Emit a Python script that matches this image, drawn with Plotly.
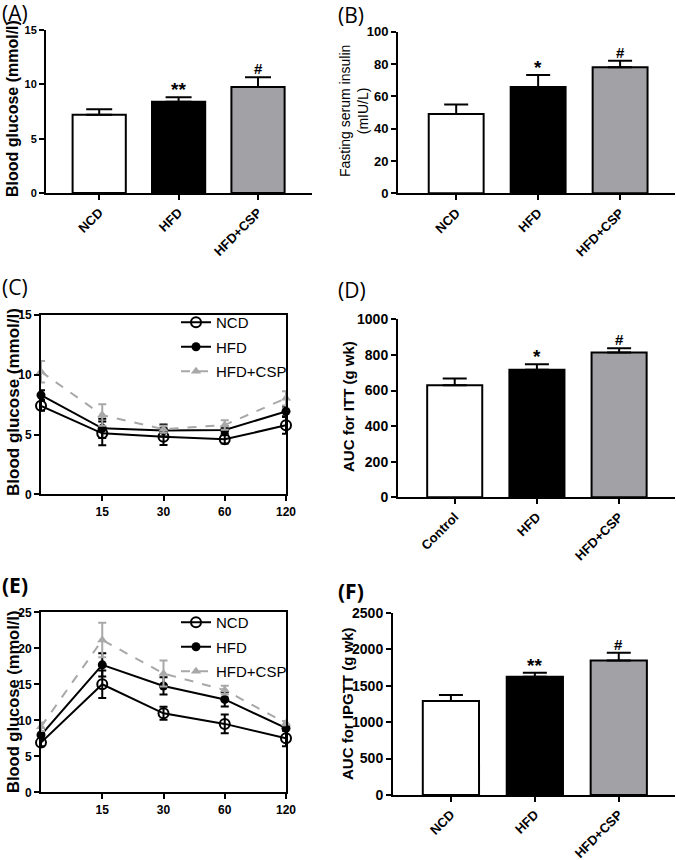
import plotly.graph_objects as go

W, H = 676, 860

# ---------------- data ----------------
groups_a = ["NCD", "HFD", "HFD+CSP"]
glucose_mean = [7.2, 8.4, 9.75]
glucose_err = [0.5, 0.4, 0.9]
glucose_sig = ["", "**", "#"]

insulin_mean = [49.0, 65.8, 78.0]
insulin_err = [6.0, 7.4, 4.0]
insulin_sig = ["", "*", "#"]

groups_d = ["Control", "HFD", "HFD+CSP"]
auc_itt_mean = [629, 717, 813]
auc_itt_err = [38, 30, 24]
auc_itt_sig = ["", "*", "#"]

auc_ipgtt_mean = [1289, 1622, 1846]
auc_ipgtt_err = [82, 55, 105]
auc_ipgtt_sig = ["", "**", "#"]

time_labels = ["0", "15", "30", "60", "120"]

itt_ncd = [7.4, 5.1, 4.82, 4.6, 5.77]
itt_ncd_err = [0.4, 1.0, 0.7, 0.35, 0.7]
itt_hfd = [8.3, 5.52, 5.33, 5.38, 6.94]
itt_hfd_err = [0.4, 0.8, 0.5, 0.3, 0.4]
itt_csp = [10.26, 6.63, 5.44, 5.8, 8.03]
itt_csp_err = [0.9, 0.9, 0.3, 0.4, 0.6]

gtt_ncd = [6.9, 15.0, 10.97, 9.5, 7.5]
gtt_ncd_err = [0.5, 1.9, 0.9, 1.3, 1.1]
gtt_hfd = [7.96, 17.7, 14.77, 12.9, 8.9]
gtt_hfd_err = [0.5, 1.6, 1.2, 1.0, 0.3]
gtt_csp = [9.1, 21.16, 16.5, 14.2, 9.6]
gtt_csp_err = [0.6, 2.4, 1.8, 0.6, 0.3]

bar_colors = ["#ffffff", "#000000", "#a2a2a6"]
GRAY = "#a8a8a8"

FONT = "Liberation Sans"


def px_x(a, b):
    return [a / W, b / W]


def px_y(top, bottom):
    return [1 - bottom / H, 1 - top / H]


fig = go.Figure()
annotations = []
layout = {}


def y_title(text, xp, yp, size, bold):
    annotations.append(dict(
        x=xp / W, y=1 - yp / H, xref="paper", yref="paper", text=text,
        showarrow=False, xanchor="center", yanchor="middle", textangle=-90,
        font=dict(family=FONT, size=size, color="black",
                  weight="bold" if bold else "normal"),
    ))


bar_panels = [
    # (axis suffix, groups, mean, err, sig, xdom, ydom, xrange, yrange, dtick,
    #  title, title_bold, title_size, title_x, title_y, ytick_size, capw)
    ("", groups_a, glucose_mean, glucose_err, glucose_sig, px_x(46, 312), px_y(30, 193),
     [-0.67, 2.68], [0, 15], 5, "Blood glucose (mmol/l)", True, 16, 13, 109, 11, 13),
    ("2", groups_a, insulin_mean, insulin_err, insulin_sig, px_x(398, 675), px_y(31.7, 193.3),
     [-0.71, 2.67], [0, 100], 20, "Fasting serum insulin<br>(mIU/L)", False, 14, 354, 111, 13, 12),
    ("4", groups_d, auc_itt_mean, auc_itt_err, auc_itt_sig, px_x(398, 675), px_y(319.3, 497.3),
     [-0.69, 2.68], [0, 1000], 200, "AUC for ITT (g wk)", True, 15, 348, 407, 14, 12),
    ("6", groups_a, auc_ipgtt_mean, auc_ipgtt_err, auc_ipgtt_sig, px_x(393, 675), px_y(612.7, 795),
     [-0.69, 2.67], [0, 2500], 500, "AUC for IPGTT (g wk)", True, 15, 347, 704, 14, 12),
]

for sfx, cats, mean, err, sig, xd, yd, xr, yr, dt, title, tb, ts, tx, ty, yts, capw in bar_panels:
    xa = "x" + sfx
    ya = "y" + sfx
    fig.add_trace(go.Bar(
        x=cats, y=mean, width=0.67,
        marker=dict(color=bar_colors, line=dict(color="black", width=2)),
        error_y=dict(type="data", symmetric=False, array=err, arrayminus=[0] * len(err),
                     color="black", thickness=2, width=capw),
        xaxis=xa, yaxis=ya, showlegend=False, hoverinfo="skip",
    ))
    for c, m, e, s in zip(cats, mean, err, sig):
        if s:
            annotations.append(dict(
                x=c, y=m + e, xref=xa, yref=ya, text=s, showarrow=False,
                yanchor="bottom", yshift=-5 if "*" in s else -2,
                font=dict(family=FONT, size=19 if "*" in s else 15, color="black", weight="bold"),
            ))
    y_title(title, tx, ty, ts, tb)
    layout["xaxis" + sfx] = dict(
        domain=xd, anchor=ya, type="category", range=xr, automargin=False,
        showline=True, linecolor="black", linewidth=2,
        ticks="outside", ticklen=5, tickwidth=2, tickcolor="black",
        tickangle=-45, tickfont=dict(family=FONT, size=13, color="black", weight="bold"),
        showgrid=False, zeroline=False, fixedrange=True,
    )
    layout["yaxis" + sfx] = dict(
        domain=yd, anchor=xa, range=yr, dtick=dt, automargin=False,
        showline=True, linecolor="black", linewidth=2,
        ticks="outside", ticklen=5, tickwidth=2, tickcolor="black",
        tickfont=dict(family=FONT, size=yts, color="black", weight="bold"),
        showgrid=False, zeroline=False, fixedrange=True,
    )

line_panels = [
    ("3", [itt_ncd, itt_hfd, itt_csp], [itt_ncd_err, itt_hfd_err, itt_csp_err],
     px_x(41, 286), px_y(315, 494.3), [0, 15], "legend", 17, 13, 402),
    ("5", [gtt_ncd, gtt_hfd, gtt_csp], [gtt_ncd_err, gtt_hfd_err, gtt_csp_err],
     px_x(41, 286), px_y(612.3, 792.3), [0, 25], "legend2", 16.5, 13, 702),
]

series_names = ["NCD", "HFD", "HFD+CSP"]
series_style = [
    dict(line=dict(color="black", width=2),
         marker=dict(symbol="circle-open", size=10, color="black", line=dict(width=2))),
    dict(line=dict(color="black", width=2),
         marker=dict(symbol="circle", size=9, color="black")),
    dict(line=dict(color=GRAY, width=2, dash="dash"),
         marker=dict(symbol="triangle-up", size=9, color=GRAY)),
]
err_colors = ["black", "black", GRAY]

for sfx, vals, errs, xd, yd, yr, lg, ts, tx, ty in line_panels:
    xa = "x" + sfx
    ya = "y" + sfx
    for i, (name, v, e) in enumerate(zip(series_names, vals, errs)):
        fig.add_trace(go.Scatter(
            x=time_labels, y=v, name=name, mode="lines+markers",
            error_y=dict(type="data", array=e, color=err_colors[i], thickness=2, width=4),
            cliponaxis=False, legend=lg, legendgroup=name + sfx,
            xaxis=xa, yaxis=ya, hoverinfo="skip",
            **series_style[i],
        ))
    y_title("Blood glucose (mmol/l)", tx, ty, ts, True)
    layout["xaxis" + sfx] = dict(
        domain=xd, anchor=ya, type="category", range=[0, 4], automargin=False,
        tickvals=time_labels[1:], ticktext=time_labels[1:],
        showline=True, mirror=True, linecolor="black", linewidth=2,
        ticks="outside", ticklen=5, tickwidth=2, tickcolor="black",
        tickfont=dict(family=FONT, size=12, color="black", weight="bold"),
        showgrid=False, zeroline=False, fixedrange=True,
    )
    layout["yaxis" + sfx] = dict(
        domain=yd, anchor=xa, range=yr, dtick=5, automargin=False,
        showline=True, mirror=True, linecolor="black", linewidth=2,
        ticks="outside", ticklen=5, tickwidth=2, tickcolor="black",
        tickfont=dict(family=FONT, size=12, color="black", weight="bold"),
        showgrid=False, zeroline=False, fixedrange=True,
    )

legend_common = dict(
    xanchor="left", yanchor="top", bgcolor="rgba(0,0,0,0)",
    font=dict(family=FONT, size=15, color="black"),
    traceorder="grouped", tracegroupgap=2, itemwidth=30,
)

panel_labels = [
    ("(A)", 0, 13, False), ("(B)", 336, 15, False),
    ("(C)", 0, 287, False), ("(D)", 336, 290, False),
    ("(E)", 0, 585, True), ("(F)", 336, 591, True),
]
for txt, xp, yp, bold in panel_labels:
    annotations.append(dict(
        x=xp / W, y=1 - yp / H, xref="paper", yref="paper", text=txt,
        showarrow=False, xanchor="left", yanchor="middle",
        font=dict(family="Open Sans", size=21, color="black",
                  weight="bold" if bold else "normal"),
    ))

fig.update_layout(
    template="none",
    width=W, height=H, margin=dict(l=0, r=0, t=0, b=0, autoexpand=False),
    paper_bgcolor="white", plot_bgcolor="white",
    showlegend=True, bargap=0.33,
    legend=dict(x=176 / W, y=1 - 306 / H, **legend_common),
    legend2=dict(x=176 / W, y=1 - 606 / H, **legend_common),
    annotations=annotations,
    **layout,
)

fig.write_html(
    "out.html",
    config={"displayModeBar": False},
    post_script="document.body.style.margin='0';document.body.style.padding='0';",
)
